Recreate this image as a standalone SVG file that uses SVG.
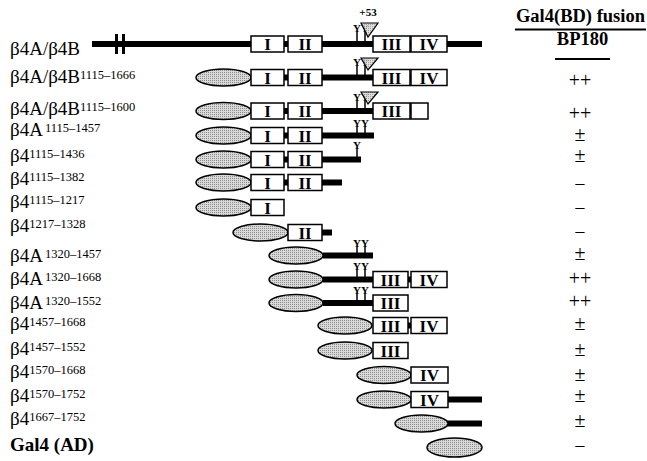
<svg xmlns="http://www.w3.org/2000/svg" width="647" height="461" viewBox="0 0 647 461">
<defs>
<pattern id="stip" patternUnits="userSpaceOnUse" width="2" height="2">
<rect width="2" height="2" fill="#d9d9d9"/>
<rect width="1" height="1" fill="#8c8c8c"/>
</pattern>
</defs>
<style>
text{font-family:"Liberation Serif","Times New Roman",serif;fill:#000}
.lbl{font-size:19px}
.sup{font-size:12.5px}
.res{font-size:20px;text-anchor:middle}
.hd{font-size:18.5px;font-weight:bold;text-anchor:middle}
.num{font-size:17px;font-weight:bold;text-anchor:middle}
.y{font-size:11px;font-weight:bold;text-anchor:middle}
.bb{stroke:#000;stroke-width:6;fill:none}
.tk{stroke:#000;stroke-width:1.5}
.box{fill:#fff;stroke:#000;stroke-width:1.5}
.ell{fill:url(#stip);stroke:#000;stroke-width:1.5}
.tri{fill:url(#stip);fill-opacity:0.85;stroke:#000;stroke-width:1.2}
</style>
<rect width="647" height="461" fill="#fff"/>
<g id="header">
<text class="hd" x="580.5" y="22">Gal4(BD) fusion</text>
<line x1="515" y1="29.5" x2="646" y2="29.5" stroke="#000" stroke-width="2"/>
<text class="hd" x="582.5" y="45">BP180</text>
<line x1="555" y1="59" x2="610" y2="59" stroke="#000" stroke-width="2"/>
</g>
<g id="row1">
<text class="lbl" x="10" y="55">β4A/β4B</text>
<line class="bb" x1="92" y1="44" x2="482" y2="44"/>
<rect x="115" y="34" width="3" height="20" fill="#000"/>
<rect x="122" y="34" width="3" height="20" fill="#000"/>
<rect class="box" x="251" y="36" width="33" height="16"/><text class="num" x="267.5" y="50">I</text>
<rect class="box" x="288" y="36" width="34" height="16"/><text class="num" x="305" y="50">II</text>
<rect class="box" x="373" y="36" width="37" height="16"/><text class="num" x="391.5" y="50">III</text>
<rect class="box" x="411" y="36" width="36" height="16"/><text class="num" x="429" y="50">IV</text>
<text class="y" x="368" y="16">+53</text>
<text class="y" x="357" y="32">Y</text><text class="y" x="365" y="32">Y</text>
<line class="tk" x1="357" y1="32" x2="357" y2="41"/><line class="tk" x1="365" y1="32" x2="365" y2="41"/>
<polygon class="tri" points="361,23 378,23 368,37"/>
</g>
<g id="row2">
<text class="lbl" x="10" y="83">β4A/β4B<tspan class="sup" dy="-4">1115–1666</tspan></text>
<line class="bb" x1="251" y1="77.5" x2="447" y2="77.5"/>
<ellipse class="ell" cx="223.5" cy="77.5" rx="27.5" ry="8.5"/>
<rect class="box" x="251" y="69.5" width="33" height="16"/><text class="num" x="267.5" y="83.5">I</text>
<rect class="box" x="288" y="69.5" width="34" height="16"/><text class="num" x="305" y="83.5">II</text>
<rect class="box" x="373" y="69.5" width="37" height="16"/><text class="num" x="391.5" y="83.5">III</text>
<rect class="box" x="411" y="69.5" width="36" height="16"/><text class="num" x="429" y="83.5">IV</text>
<text class="y" x="357" y="66">Y</text><text class="y" x="365" y="66">Y</text>
<line class="tk" x1="357" y1="66" x2="357" y2="75"/><line class="tk" x1="365" y1="66" x2="365" y2="75"/>
<polygon class="tri" points="361,58 378,58 368,70"/>
<text class="res" x="580" y="87">++</text>
</g>
<g id="row3">
<text class="lbl" x="10" y="115">β4A/β4B<tspan class="sup" dy="-4">1115–1600</tspan></text>
<line class="bb" x1="251" y1="111" x2="428" y2="111"/>
<ellipse class="ell" cx="223.5" cy="111" rx="27.5" ry="8.5"/>
<rect class="box" x="251" y="103" width="33" height="16"/><text class="num" x="267.5" y="117">I</text>
<rect class="box" x="288" y="103" width="34" height="16"/><text class="num" x="305" y="117">II</text>
<rect class="box" x="373" y="103" width="37" height="16"/><text class="num" x="391.5" y="117">III</text>
<rect class="box" x="411" y="103" width="17" height="16"/>
<text class="y" x="357" y="101">Y</text><text class="y" x="365" y="101">Y</text>
<line class="tk" x1="357" y1="101" x2="357" y2="108"/><line class="tk" x1="365" y1="101" x2="365" y2="108"/>
<polygon class="tri" points="361,92 378,92 368,104"/>
<text class="res" x="580" y="119.5">++</text>
</g>
<g id="row4">
<text class="lbl" x="10" y="136">β4A<tspan class="sup" dx="2" dy="-4">1115–1457</tspan></text>
<line class="bb" x1="251" y1="135.5" x2="374" y2="135.5"/>
<ellipse class="ell" cx="223.5" cy="135.5" rx="27.5" ry="8.5"/>
<rect class="box" x="251" y="127.5" width="33" height="16"/><text class="num" x="267.5" y="141.5">I</text>
<rect class="box" x="288" y="127.5" width="34" height="16"/><text class="num" x="305" y="141.5">II</text>
<text class="y" x="357" y="127">Y</text><text class="y" x="365" y="127">Y</text>
<line class="tk" x1="357" y1="127" x2="357" y2="133"/><line class="tk" x1="365" y1="127" x2="365" y2="133"/>
<text class="res" x="580" y="140.5">±</text>
</g>
<g id="row5">
<text class="lbl" x="10" y="162">β4<tspan class="sup" dy="-4">1115–1436</tspan></text>
<line class="bb" x1="251" y1="159.5" x2="361" y2="159.5"/>
<ellipse class="ell" cx="223.5" cy="159.5" rx="27.5" ry="8.5"/>
<rect class="box" x="251" y="151.5" width="33" height="16"/><text class="num" x="267.5" y="165.5">I</text>
<rect class="box" x="288" y="151.5" width="34" height="16"/><text class="num" x="305" y="165.5">II</text>
<text class="y" x="357" y="149">Y</text>
<line class="tk" x1="357" y1="149" x2="357" y2="157"/>
<text class="res" x="580" y="162">±</text>
</g>
<g id="row6">
<text class="lbl" x="10" y="185">β4<tspan class="sup" dy="-4">1115–1382</tspan></text>
<line class="bb" x1="251" y1="182.5" x2="342" y2="182.5" stroke-width="7"/>
<ellipse class="ell" cx="223.5" cy="182.5" rx="27.5" ry="8.5"/>
<rect class="box" x="251" y="174.5" width="33" height="16"/><text class="num" x="267.5" y="188.5">I</text>
<rect class="box" x="288" y="174.5" width="34" height="16"/><text class="num" x="305" y="188.5">II</text>
<text class="res" x="580" y="191">−</text>
</g>
<g id="row7">
<text class="lbl" x="10" y="208">β4<tspan class="sup" dy="-4">1115–1217</tspan></text>
<ellipse class="ell" cx="223.5" cy="207.5" rx="27.5" ry="8.5"/>
<rect class="box" x="251" y="199.5" width="33" height="16"/><text class="num" x="267.5" y="213.5">I</text>
<text class="res" x="580" y="215">−</text>
</g>
<g id="row8">
<text class="lbl" x="10" y="232">β4<tspan class="sup" dy="-4">1217–1328</tspan></text>
<line class="bb" x1="288" y1="232.5" x2="332" y2="232.5" stroke-width="7"/>
<ellipse class="ell" cx="260.5" cy="232.5" rx="27.5" ry="8.5"/>
<rect class="box" x="288" y="224.5" width="34" height="16"/><text class="num" x="305" y="238.5">II</text>
<text class="res" x="580" y="239">−</text>
</g>
<g id="row9">
<text class="lbl" x="10" y="262">β4A<tspan class="sup" dx="2" dy="-4">1320–1457</tspan></text>
<line class="bb" x1="323" y1="255.5" x2="373" y2="255.5"/>
<ellipse class="ell" cx="296" cy="255.5" rx="27" ry="8.5"/>
<text class="y" x="357" y="247">Y</text><text class="y" x="365" y="247">Y</text>
<line class="tk" x1="357" y1="247" x2="357" y2="253"/><line class="tk" x1="365" y1="247" x2="365" y2="253"/>
<text class="res" x="580" y="260">±</text>
</g>
<g id="row10">
<text class="lbl" x="10" y="285">β4A<tspan class="sup" dx="2" dy="-4">1320–1668</tspan></text>
<line class="bb" x1="323" y1="279.5" x2="447" y2="279.5"/>
<ellipse class="ell" cx="296" cy="279.5" rx="27" ry="8.5"/>
<rect class="box" x="373" y="271.5" width="35" height="16"/><text class="num" x="390.5" y="285.5">III</text>
<rect class="box" x="411" y="271.5" width="36" height="16"/><text class="num" x="429" y="285.5">IV</text>
<text class="y" x="357" y="270">Y</text><text class="y" x="365" y="270">Y</text>
<line class="tk" x1="357" y1="270" x2="357" y2="277"/><line class="tk" x1="365" y1="270" x2="365" y2="277"/>
<text class="res" x="580" y="285">++</text>
</g>
<g id="row11">
<text class="lbl" x="10" y="309">β4A<tspan class="sup" dx="2" dy="-4">1320–1552</tspan></text>
<line class="bb" x1="323" y1="303" x2="408" y2="303"/>
<ellipse class="ell" cx="296" cy="303" rx="27" ry="8.5"/>
<rect class="box" x="373" y="295" width="35" height="16"/><text class="num" x="390.5" y="309">III</text>
<text class="y" x="357" y="294">Y</text><text class="y" x="365" y="294">Y</text>
<line class="tk" x1="357" y1="294" x2="357" y2="300"/><line class="tk" x1="365" y1="294" x2="365" y2="300"/>
<text class="res" x="580" y="308">++</text>
</g>
<g id="row12">
<text class="lbl" x="10" y="330">β4<tspan class="sup" dy="-4">1457–1668</tspan></text>
<line class="bb" x1="373" y1="325.5" x2="447" y2="325.5"/>
<ellipse class="ell" cx="345" cy="325.5" rx="27" ry="8.5"/>
<rect class="box" x="373" y="317.5" width="35" height="16"/><text class="num" x="390.5" y="331.5">III</text>
<rect class="box" x="411" y="317.5" width="36" height="16"/><text class="num" x="429" y="331.5">IV</text>
<text class="res" x="580" y="330">±</text>
</g>
<g id="row13">
<text class="lbl" x="10" y="355">β4<tspan class="sup" dy="-4">1457–1552</tspan></text>
<ellipse class="ell" cx="345" cy="350.5" rx="27" ry="8.5"/>
<rect class="box" x="373" y="342.5" width="35" height="16"/><text class="num" x="390.5" y="356.5">III</text>
<text class="res" x="580" y="356">±</text>
</g>
<g id="row14">
<text class="lbl" x="10" y="378">β4<tspan class="sup" dy="-4">1570–1668</tspan></text>
<ellipse class="ell" cx="384" cy="375" rx="27" ry="8.5"/>
<rect class="box" x="411" y="367" width="37" height="16"/><text class="num" x="429.5" y="381">IV</text>
<text class="res" x="580" y="381">±</text>
</g>
<g id="row15">
<text class="lbl" x="10" y="402">β4<tspan class="sup" dy="-4">1570–1752</tspan></text>
<line class="bb" x1="411" y1="399.5" x2="482" y2="399.5"/>
<ellipse class="ell" cx="384" cy="399.5" rx="27" ry="8.5"/>
<rect class="box" x="411" y="391.5" width="37" height="16"/><text class="num" x="429.5" y="405.5">IV</text>
<text class="res" x="580" y="402">±</text>
</g>
<g id="row16">
<text class="lbl" x="10" y="425">β4<tspan class="sup" dy="-4">1667–1752</tspan></text>
<line class="bb" x1="440" y1="423.5" x2="482" y2="423.5"/>
<ellipse class="ell" cx="421.5" cy="423.5" rx="26.5" ry="8.5"/>
<text class="res" x="580" y="427">±</text>
</g>
<g id="row17">
<text class="lbl" x="10" y="451" font-weight="bold">Gal4 (AD)</text>
<ellipse class="ell" cx="454.5" cy="447.5" rx="27.5" ry="9.5"/>
<text class="res" x="580" y="453">−</text>
</g>
</svg>
